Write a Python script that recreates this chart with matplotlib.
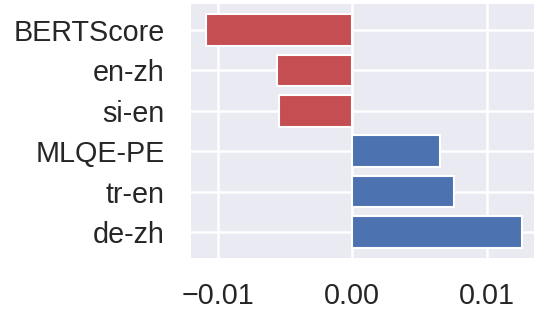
import numpy as np
import matplotlib
matplotlib.use("Agg")
import matplotlib.pyplot as plt
import seaborn as sns

# values
labels = ["BERTScore", "en-zh", "si-en", "MLQE-PE", "tr-en", "de-zh"]
values = [-0.01088, -0.00562, -0.00545, 0.00654, 0.00756, 0.01259]

sns.set_theme(style="darkgrid")
plt.rcParams["font.family"] = ["Liberation Sans", "DejaVu Sans"]

fig = plt.figure(figsize=(5.34, 3.11), dpi=100)
ax = fig.add_axes([0.3577, 0.1704, 0.6423, 0.8166])

colors = ["#C44E52" if v < 0 else "#4C72B0" for v in values]
y = np.arange(len(labels))
ax.barh(y, values, height=0.78, color=colors, edgecolor="white", linewidth=1.5, zorder=3)

ax.set_yticks(y)
ax.set_yticklabels(labels)
ax.set_ylim(len(labels) - 0.36, -0.64)
ax.set_xlim(-0.0120, 0.01351)
ax.set_xticks([-0.01, 0.0, 0.01])
ax.set_xticklabels(["\u22120.01", "0.00", "0.01"])
ax.tick_params(axis="both", labelsize=20.7, colors="#262626", length=0)
ax.tick_params(axis="y", pad=19)
ax.tick_params(axis="x", pad=17)
ax.grid(True, color="white", linewidth=1.8, zorder=0)
for s in ax.spines.values():
    s.set_visible(False)

fig.savefig("out.png", dpi=100)
